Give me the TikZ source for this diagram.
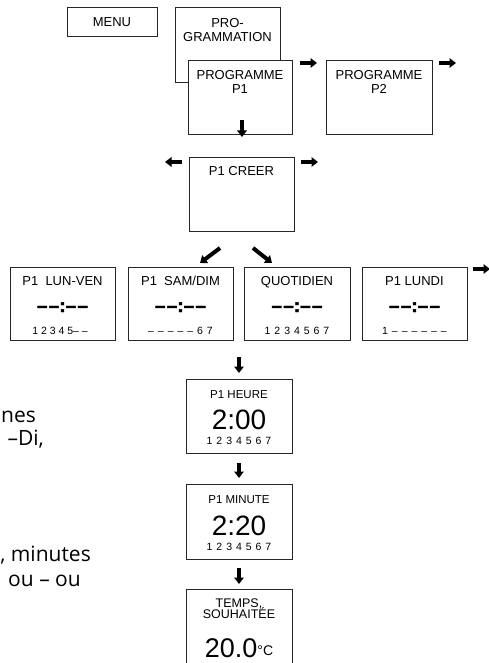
\documentclass[tikz,border=0pt]{standalone}
\usepackage{fontspec}
\setmainfont{Liberation Sans}
\newfontfamily\sidefont{Open Sans}
\newfontfamily\dashfont[FakeBold=2]{Liberation Sans Bold}
\usetikzlibrary{arrows.meta}
\newcommand\fs[1]{\fontsize{#1}{#1}\selectfont}
\newcommand\dg[1]{\makebox[9.8pt]{#1}}
\newcommand\dgrow[7]{\dg{#1}\dg{#2}\dg{#3}\dg{#4}\dg{#5}\dg{#6}\dg{#7}}
\tikzset{
  box/.style={draw=black!85, line width=0.8pt, fill=white, anchor=north west,
              inner sep=0pt, outer sep=0pt, minimum width=#1},
  box/.default=105pt,
  boxline/.style={draw=black!85, line width=0.8pt},
  lbl/.style={inner sep=0pt, anchor=base, font=\fs{13}},
  small/.style={inner sep=0pt, anchor=base, font=\fs{11.5}},
  digs/.style={inner sep=0pt, anchor=base, font=\fs{10.5}},
  dashes/.style={inner sep=0pt, anchor=base, font=\dashfont\fs{19}},
  big/.style={inner sep=0pt, anchor=base, font=\fs{28}},
  side/.style={inner sep=0pt, anchor=base east, font=\sidefont\fs{21}},
  blk/.style={line width=4pt, black, -{Triangle[length=6.5pt,width=9.5pt]}},
}
\begin{document}
\begin{tikzpicture}[x=1pt,y=-1pt]
\useasboundingbox (0,0) rectangle (488,663);

% top row
\node[box=90pt, minimum height=29pt] (menu) at (67,7) {};
\node[lbl] (menuT) at (112,26.5) {MENU};
\node[box, minimum height=75pt] (prog) at (175,7) {};
\node[lbl] (progT1) at (227.5,27.5) {PRO-};
\node[lbl] (progT2) at (227.5,41.5) {GRAMMATION};
\node[box=104pt, minimum height=74pt] (p1) at (188,60) {};
\node[lbl] (p1T1) at (240,80) {PROGRAMME};
\node[lbl] (p1T2) at (240,94) {P1};
\node[box=106pt, minimum height=74pt] (p2) at (326,60) {};
\node[lbl] (p2T1) at (379,80) {PROGRAMME};
\node[lbl] (p2T2) at (379,94) {P2};

\coordinate (a1s) at (300,63); \coordinate (a1e) at (317,63);
\coordinate (a2s) at (439,63); \coordinate (a2e) at (456,63);
\coordinate (a3s) at (242,120); \coordinate (a3e) at (242,137);
\draw[blk] (a1s) -- (a1e);
\draw[blk] (a2s) -- (a2e);
\draw[blk] (a3s) -- (a3e);

% P1 CREER
\node[box, minimum height=74pt] (creer) at (189,157) {};
\node[lbl] (creerT) at (241.5,175.5) {P1 CREER};
\coordinate (a4s) at (182,162); \coordinate (a4e) at (165,162);
\coordinate (a5s) at (301,162); \coordinate (a5e) at (318,162);
\coordinate (a6s) at (220,248); \coordinate (a6e) at (200,263);
\coordinate (a7s) at (253,248); \coordinate (a7e) at (272,263);
\draw[blk] (a4s) -- (a4e);
\draw[blk] (a5s) -- (a5e);
\draw[blk] (a6s) -- (a6e);
\draw[blk] (a7s) -- (a7e);

% row of four
\node[box, minimum height=73pt] (lv) at (10,267) {};
\node[box, minimum height=73pt] (sd) at (128,267) {};
\node[box=106pt, minimum height=73pt] (qt) at (244,267) {};
\node[box, minimum height=73pt] (ld) at (362,267) {};

\node[lbl] (lvT) at (62.5,285.5) {P1\ \ LUN-VEN};
\node[lbl] (sdT) at (180.5,285.5) {P1\ \ SAM/DIM};
\node[lbl] (qtT) at (297,285.5) {QUOTIDIEN};
\node[lbl] (ldT) at (414.5,285.5) {P1 LUNDI};

\node[dashes] (lvD) at (62.5,312) {–\kern1.2pt–:–\kern1.2pt–};
\node[dashes] (sdD) at (180.5,312) {–\kern1.2pt–:–\kern1.2pt–};
\node[dashes] (qtD) at (297,312) {–\kern1.2pt–:–\kern1.2pt–};
\node[dashes] (ldD) at (414.5,312) {–\kern1.2pt–:–\kern1.2pt–};

\node[digs] (lvN) at (60,334) {1 2 3 4 5– –};
\node[digs] (sdN) at (180.5,334) {\dgrow{–}{–}{–}{–}{–}{6}{7}};
\node[digs] (qtN) at (297,334) {\dgrow{1}{2}{3}{4}{5}{6}{7}};
\node[digs] (ldN) at (414.5,334) {\dgrow{1}{–}{–}{–}{–}{–}{–}};

\coordinate (a8s) at (473,269); \coordinate (a8e) at (490,269);
\draw[blk] (a8s) -- (a8e);

% vertical chain
\coordinate (a9s) at (239,357); \coordinate (a9e) at (239,373);
\draw[blk] (a9s) -- (a9e);
\node[box=106pt, minimum height=74pt] (hr) at (186,379) {};
\node[small] (hrT) at (239,398) {P1 HEURE};
\node[big] (hrB) at (239,429) {2:00};
\node[digs] (hrN) at (239,444) {\dgrow{1}{2}{3}{4}{5}{6}{7}};

\coordinate (a10s) at (239,463); \coordinate (a10e) at (239,478);
\draw[blk] (a10s) -- (a10e);
\node[box=106pt, minimum height=75pt] (mn) at (186,484) {};
\node[small] (mnT) at (239,503) {P1 MINUTE};
\node[big] (mnB) at (239,535) {2:20};
\node[digs] (mnN) at (239,550) {\dgrow{1}{2}{3}{4}{5}{6}{7}};

\coordinate (a11s) at (239,568); \coordinate (a11e) at (239,584);
\draw[blk] (a11s) -- (a11e);
\coordinate (tpbl) at (186,663);
\coordinate (tptr) at (292,589);
\coordinate (tpbr) at (292,663);
\draw[boxline] (tpbl) |- (tptr) -- (tpbr);
\node[inner sep=0pt, anchor=base, font=\fs{12.5}] (tpT1) at (239,607) {TEMPS,};
\node[inner sep=0pt, anchor=base, font=\fs{12.5}] (tpT2) at (239,618) {SOUHAITÉE};
\node[inner sep=0pt, anchor=base, font=\fs{27}] (tpB) at (239,657) {20.0{\fs{14}\raisebox{1.5pt}{°C}}};

% partial side text
\node[side] (s1) at (36,422) {nes};
\node[side] (s2) at (44,445) {–Di,};
\node[side] (s3) at (91,561) {, minutes};
\node[side] (s4) at (81,586) {ou – ou};
\end{tikzpicture}
\end{document}
